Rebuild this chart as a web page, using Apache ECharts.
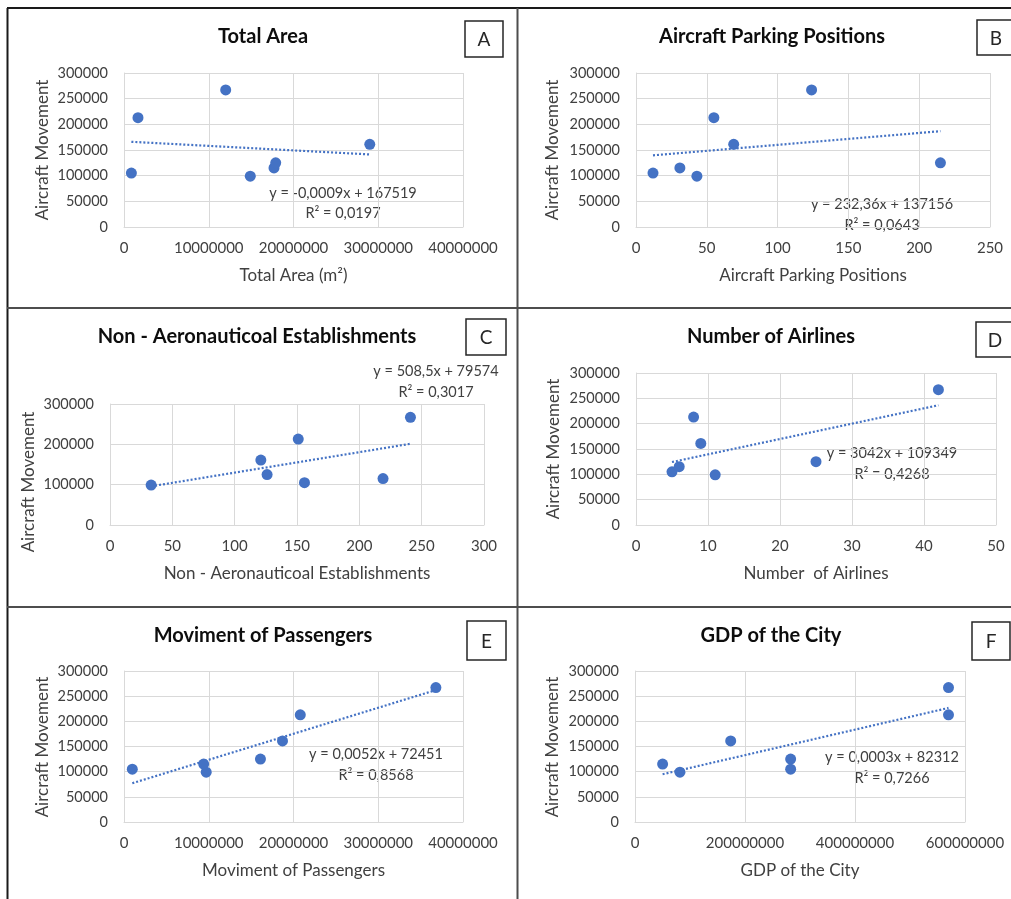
<!DOCTYPE html>
<html>
<head>
<meta charset="utf-8">
<script src="https://cdn.jsdelivr.net/npm/echarts@6/dist/echarts.min.js"></script>
<style>
  html, body { margin: 0; padding: 0; background: #ffffff; }
  #chart { width: 1011px; height: 899px; }
</style>
</head>
<body>
<div id="chart"></div>
<script>
// ---- Data ----
// Aircraft movement of the seven airports (shared y values of every panel)
const aircraftMovement = [99000, 105000, 115000, 125000, 161000, 213000, 267000];
// X values of the same seven airports in each panel
const totalArea = [14900000, 870000, 17700000, 17900000, 29000000, 1650000, 12000000];
const parkingPositions = [43, 12, 31, 215, 69, 55, 124];
const nonAeroEstablishments = [33, 156, 219, 126, 121, 151, 241];
const numberOfAirlines = [11, 5, 6, 25, 9, 8, 42];
const passengerMovement = [9700000, 980000, 9400000, 16100000, 18700000, 20800000, 36800000];
const cityGdp = [81700000, 283000000, 50200000, 283000000, 174000000, 570000000, 570000000];

const panelTitles = ['Total Area', 'Aircraft Parking Positions', 'Non - Aeronauticoal Establishments',
  'Number of Airlines', 'Moviment of Passengers', 'GDP of the City'];
const xAxisTitles = ['Total Area (m²)', 'Aircraft Parking Positions', 'Non - Aeronauticoal Establishments',
  'Number  of Airlines', 'Moviment of Passengers', 'GDP of the City'];
const yAxisTitle = 'Aircraft Movement';
const panelLetters = ['A', 'B', 'C', 'D', 'E', 'F'];
const equations = [
  ['y = -0,0009x + 167519', 'R² = 0,0197'],
  ['y = 232,36x + 137156', 'R² = 0,0643'],
  ['y = 508,5x + 79574', 'R² = 0,3017'],
  ['y = 3042x + 109349', 'R² = 0,4268'],
  ['y = 0,0052x + 72451', 'R² = 0,8568'],
  ['y = 0,0003x + 82312', 'R² = 0,7266']
];
const xMaxima = [40000000, 250, 300, 50, 40000000, 600000000];
const xIntervals = [10000000, 50, 50, 10, 10000000, 200000000];
const yMaxima = [300000, 300000, 300000, 300000, 300000, 300000];
const yIntervals = [50000, 50000, 100000, 50000, 50000, 50000];
const xSeries = [totalArea, parkingPositions, nonAeroEstablishments, numberOfAirlines, passengerMovement, cityGdp];

// ---- Layout (positions / sizes) ----
const layout = [
  { grid: [124, 73, 339, 154], title: [263, 37], eq: [343, 193, 213], box: [465, 21, 38, 36], yName: [43, 150] },
  { grid: [636, 73, 354, 154], title: [772, 37], eq: [882, 204, 225], box: [977, 20, 38, 35], yName: [553, 150] },
  { grid: [110, 404, 374, 121], title: [257, 337], eq: [436, 371, 392], box: [466, 319, 40, 36], yName: [29, 482] },
  { grid: [636, 373, 360, 152], title: [771, 337], eq: [892, 453, 474], box: [976, 322, 38, 35], yName: [554, 449] },
  { grid: [124, 671, 339, 151], title: [263, 636], eq: [376, 754, 775], box: [467, 621, 39, 39], yName: [43, 747] },
  { grid: [635, 671, 330, 151], title: [771, 636], eq: [892, 757, 778], box: [972, 622, 38, 38], yName: [553, 747] }
];

const FONT = 'Lato, "Open Sans", sans-serif';
const LABEL_COLOR = '#404040';
const BLUE = '#4472C4';

function regression(xs, ys) {
  const n = xs.length;
  let mx = 0, my = 0;
  for (let i = 0; i < n; i++) { mx += xs[i]; my += ys[i]; }
  mx /= n; my /= n;
  let sxy = 0, sxx = 0;
  for (let i = 0; i < n; i++) { sxy += (xs[i] - mx) * (ys[i] - my); sxx += (xs[i] - mx) * (xs[i] - mx); }
  const b = sxy / sxx;
  return { slope: b, intercept: my - b * mx };
}

const grids = [], xAxes = [], yAxes = [], series = [], graphics = [];

// Panel borders
const borderLines = [
  { x1: 7, y1: 8, x2: 1011, y2: 8, c: '#1a1a1a' },
  { x1: 7.5, y1: 8, x2: 7.5, y2: 899, c: '#1a1a1a' },
  { x1: 517.5, y1: 8, x2: 517.5, y2: 899, c: '#4d4d4d' },
  { x1: 7, y1: 308, x2: 1011, y2: 308, c: '#4d4d4d' },
  { x1: 7, y1: 607, x2: 1011, y2: 607, c: '#4d4d4d' }
];
borderLines.forEach(l => graphics.push({
  type: 'line', shape: { x1: l.x1, y1: l.y1, x2: l.x2, y2: l.y2 },
  style: { stroke: l.c, lineWidth: 2 }, silent: true
}));

for (let p = 0; p < 6; p++) {
  const L = layout[p];
  grids.push({ left: L.grid[0], top: L.grid[1], width: L.grid[2], height: L.grid[3], containLabel: false });
  xAxes.push({
    type: 'value', gridIndex: p, min: 0, max: xMaxima[p], interval: xIntervals[p],
    name: xAxisTitles[p], nameLocation: 'middle', nameGap: 40,
    nameTextStyle: { fontFamily: FONT, fontSize: 17, color: LABEL_COLOR },
    axisLine: { show: true, lineStyle: { color: '#d9d9d9', width: 1 } },
    axisTick: { show: false },
    splitLine: { show: true, lineStyle: { color: '#d9d9d9', width: 1 } },
    axisLabel: { margin: 14, fontFamily: FONT, fontSize: 15, color: LABEL_COLOR, formatter: v => String(v) }
  });
  yAxes.push({
    type: 'value', gridIndex: p, min: 0, max: yMaxima[p], interval: yIntervals[p],
    name: '',
    axisLine: { show: true, lineStyle: { color: '#d9d9d9', width: 1 } },
    axisTick: { show: false },
    splitLine: { show: true, lineStyle: { color: '#d9d9d9', width: 1 } },
    axisLabel: { margin: 16, fontFamily: FONT, fontSize: 14.5, color: LABEL_COLOR, formatter: v => String(v) }
  });
  const xs = xSeries[p];
  const pts = xs.map((x, i) => [x, aircraftMovement[i]]);
  series.push({
    type: 'scatter', xAxisIndex: p, yAxisIndex: p, data: pts,
    symbolSize: 11, itemStyle: { color: BLUE, opacity: 1 }, silent: true, z: 3
  });
  const reg = regression(xs, aircraftMovement);
  const xmin = Math.min(...xs), xmax = Math.max(...xs);
  series.push({
    type: 'line', xAxisIndex: p, yAxisIndex: p,
    data: [[xmin, reg.intercept + reg.slope * xmin], [xmax, reg.intercept + reg.slope * xmax]],
    symbol: 'none', silent: true, z: 2,
    lineStyle: { color: BLUE, width: 2.2, type: [2, 2] }
  });

  // Title
  graphics.push({
    type: 'text', silent: true,
    style: { text: panelTitles[p], x: L.title[0], y: L.title[1], align: 'center', verticalAlign: 'middle',
      font: 'bold 20px ' + FONT, fill: '#0d0d0d' }
  });
  // Y axis title (rotated)
  graphics.push({
    type: 'text', silent: true, x: L.yName[0], y: L.yName[1], rotation: Math.PI / 2,
    style: { text: yAxisTitle, x: 0, y: 0, align: 'center', verticalAlign: 'middle',
      font: '17px ' + FONT, fill: LABEL_COLOR }
  });
  // Equation & R²
  graphics.push({
    type: 'text', silent: true,
    style: { text: equations[p][0], x: L.eq[0], y: L.eq[1], align: 'center', verticalAlign: 'middle',
      font: '14.5px ' + FONT, fill: LABEL_COLOR }
  });
  graphics.push({
    type: 'text', silent: true,
    style: { text: equations[p][1], x: L.eq[0], y: L.eq[2], align: 'center', verticalAlign: 'middle',
      font: '14.5px ' + FONT, fill: LABEL_COLOR }
  });
  // Letter box
  graphics.push({
    type: 'rect', silent: true,
    shape: { x: L.box[0], y: L.box[1], width: L.box[2], height: L.box[3] },
    style: { fill: '#ffffff', stroke: '#262626', lineWidth: 1.5 }
  });
  graphics.push({
    type: 'text', silent: true,
    style: { text: panelLetters[p], x: L.box[0] + L.box[2] / 2, y: L.box[1] + L.box[3] / 2 + 1,
      align: 'center', verticalAlign: 'middle', font: '19px ' + FONT, fill: '#262626' }
  });
}

const chart = echarts.init(document.getElementById('chart'), null, { renderer: 'canvas' });
chart.setOption({
  backgroundColor: '#ffffff',
  animation: false,
  grid: grids,
  xAxis: xAxes,
  yAxis: yAxes,
  series: series,
  graphic: { elements: graphics }
});
</script>
</body>
</html>
